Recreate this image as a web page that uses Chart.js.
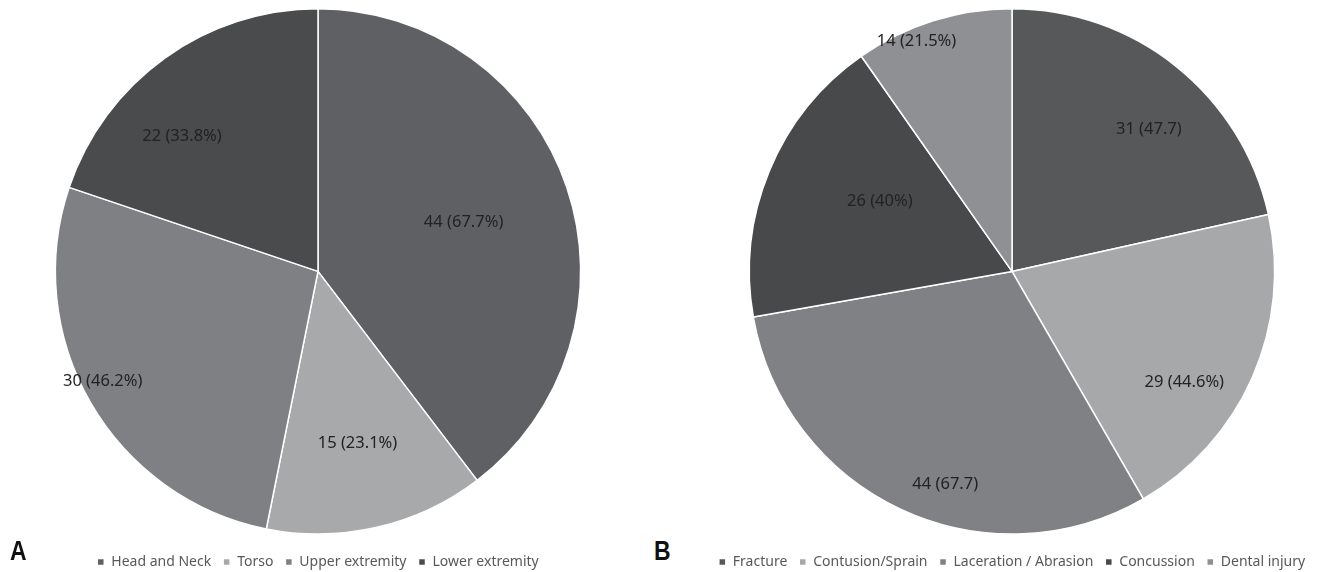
<!DOCTYPE html>
<html>
<head>
<meta charset="utf-8">
<script src="https://cdn.jsdelivr.net/npm/chart.js@4.4.1/dist/chart.umd.min.js"></script>
<style>
	html, body { margin: 0; padding: 0; background: #fff; }
	#wrap { position: relative; width: 1322px; height: 572px; overflow: hidden; }
	.box { position: absolute; top: 0; height: 579px; }
	#box-a { left: 0; width: 636px; }
	#box-b { left: 702px; width: 620px; }
	.panel-tag {
		position: absolute; top: 536px;
		font-family: "Liberation Sans Narrow", "Liberation Sans", sans-serif;
		font-weight: bold; font-size: 27px; color: #111;
		transform: scaleX(0.85); transform-origin: left;
	}
</style>
</head>
<body>
<div id="wrap">
	<div class="box" id="box-a"><canvas id="chart-a"></canvas></div>
	<div class="box" id="box-b"><canvas id="chart-b"></canvas></div>
	<div class="panel-tag" style="left: 10px;">A</div>
	<div class="panel-tag" style="left: 654px;">B</div>
</div>
<script>
// Panel A: injury site
const siteLabels = ["Head and Neck", "Torso", "Upper extremity", "Lower extremity"];
const siteCounts = [44, 15, 30, 22];
const siteText = ["44 (67.7%)", "15 (23.1%)", "30 (46.2%)", "22 (33.8%)"];
const siteColors = ["#5e6063", "#a8a9ab", "#7f8083", "#4a4b4d"];

// Panel B: injury type
const typeLabels = ["Fracture", "Contusion/Sprain", "Laceration / Abrasion", "Concussion", "Dental injury"];
const typeCounts = [31, 29, 44, 26, 14];
const typeText = ["31 (47.7)", "29 (44.6%)", "44 (67.7)", "26 (40%)", "14 (21.5%)"];
const typeColors = ["#57585a", "#a7a8aa", "#808184", "#48494b", "#8f9093"];

// where each slice label sits: [angle shift in degrees, fraction of radius]
const siteLabelPos = [[0, 0.585], [0, 0.67], [3, 0.92], [-9.5, 0.73]];
const typeLabelPos = [[5.25, 0.75], [9, 0.78], [-7.6, 0.85], [5.5, 0.57], [-5, 0.95]];

const sliceText = {
	id: "sliceText",
	afterDatasetsDraw(chart, args, opts) {
		const ctx = chart.ctx;
		const arcs = chart.getDatasetMeta(0).data;
		ctx.save();
		ctx.font = "16.5px 'Noto Sans', sans-serif";
		ctx.fillStyle = "#222";
		ctx.textAlign = "center";
		ctx.textBaseline = "middle";
		arcs.forEach((arc, i) => {
			const p = arc.getProps(["x", "y", "startAngle", "endAngle", "outerRadius"], true);
			const pos = opts.pos[i];
			const mid = (p.startAngle + p.endAngle) / 2 + pos[0] * Math.PI / 180;
			const r = p.outerRadius * pos[1];
			ctx.fillText(opts.text[i], p.x + Math.cos(mid) * r, p.y + Math.sin(mid) * r);
		});
		ctx.restore();
	}
};

function makePie(id, labels, counts, colors, text, pos) {
	const ctx = document.getElementById(id).getContext("2d");
	return new Chart(ctx, {
		type: "pie",
		data: {
			labels: labels,
			datasets: [{
				data: counts,
				backgroundColor: colors,
				borderColor: "#ffffff",
				borderWidth: 1.5,
			}],
		},
		options: {
			responsive: true,
			maintainAspectRatio: false,
			animation: false,
			layout: { padding: { top: 8, bottom: 0 } },
			plugins: {
				tooltip: { enabled: false },
				legend: {
					position: "bottom",
					title: { display: true, text: " ", padding: 0.5, font: { size: 6 } },
					labels: {
						boxWidth: 7,
						boxHeight: 7,
						padding: 12,
						color: "#595959",
						font: { family: "'Noto Sans', sans-serif", size: 14 },
					},
				},
				sliceText: { text: text, pos: pos },
			},
		},
		plugins: [sliceText],
	});
}

makePie("chart-a", siteLabels, siteCounts, siteColors, siteText, siteLabelPos);
makePie("chart-b", typeLabels, typeCounts, typeColors, typeText, typeLabelPos);
</script>
</body>
</html>
